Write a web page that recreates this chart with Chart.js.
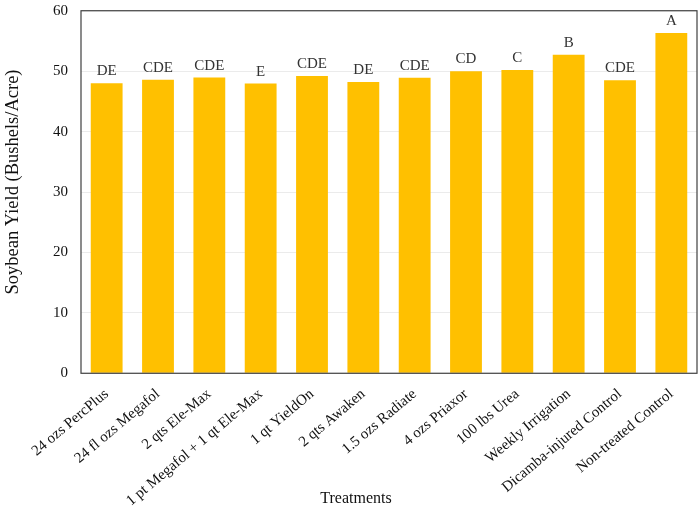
<!DOCTYPE html>
<html lang="en">
<head>
  <meta charset="UTF-8">
  <title>Soybean Yield</title>
  <script src="https://cdn.jsdelivr.net/npm/chart.js"></script>
  <style>
    html, body { margin: 0; padding: 0; background: white; overflow: hidden; }
    #wrap { width: 700px; height: 520px; margin-top: -3px; }
  </style>
</head>
<body>
  <div id="wrap"><canvas id="grafico"></canvas></div>

  <script>
    const treatments = [
      "24 ozs PercPlus", "24 fl ozs Megafol", "2 qts Ele-Max", "1 pt Megafol + 1 qt Ele-Max",
      "1 qt YieldOn", "2 qts Awaken", "1.5 ozs Radiate", "4 ozs Priaxor",
      "100 lbs Urea", "Weekly Irrigation", "Dicamba-injured Control", "Non-treated Control"
    ];
    const yieldValues = [48.0, 48.6, 48.95, 47.95, 49.2, 48.2, 48.9, 50.0, 50.2, 52.7, 48.5, 56.3];
    const letters = ["DE", "CDE", "CDE", "E", "CDE", "DE", "CDE", "CD", "C", "B", "CDE", "A"];
    const yTicks = [0, 10, 20, 30, 40, 50, 60];

    const serif = "'Liberation Serif', 'Times New Roman', serif";

    // letras acima das barras, moldura e títulos dos eixos
    const extras = {
      id: "extras",
      afterDatasetsDraw(chart) {
        const ctx = chart.ctx;
        const meta = chart.getDatasetMeta(0);
        ctx.save();
        ctx.font = "15px " + serif;
        ctx.fillStyle = "#333";
        ctx.textAlign = "center";
        ctx.textBaseline = "alphabetic";
        meta.data.forEach((bar, i) => {
          ctx.fillText(letters[i], bar.x, bar.y - 8);
        });
        const a = chart.chartArea;
        ctx.strokeStyle = "#404040";
        ctx.lineWidth = 1.2;
        ctx.strokeRect(a.left, a.top, a.right - a.left, a.bottom - a.top);

        ctx.fillStyle = "#111";
        ctx.font = "16px " + serif;
        ctx.fillText("Treatments", 356, 506);

        ctx.font = "18.5px " + serif;
        ctx.translate(18, 185);
        ctx.rotate(-Math.PI / 2);
        ctx.fillText("Soybean Yield (Bushels/Acre)", 0, 0);
        ctx.restore();
      }
    };

    new Chart(document.getElementById("grafico"), {
      type: "bar",
      data: {
        labels: treatments,
        datasets: [{
          data: yieldValues,
          backgroundColor: "#FFC000",
          barPercentage: 0.62,
          categoryPercentage: 1
        }]
      },
      options: {
        responsive: true,
        maintainAspectRatio: false,
        animation: false,
        layout: { padding: { top: 0, right: 3, left: 40, bottom: 3 } },
        plugins: { legend: { display: false }, tooltip: { enabled: false } },
        scales: {
          x: {
            grid: { display: false },
            border: { display: false },
            ticks: {
              font: { family: serif, size: 15 },
              color: "#111",
              minRotation: 40,
              maxRotation: 40,
              autoSkip: false,
              padding: 4
            }
          },
          y: {
            min: 0,
            max: 60,
            afterBuildTicks(scale) { scale.ticks = yTicks.map(v => ({ value: v })); },
            grid: { color: "#ebebeb", drawTicks: false },
            border: { display: false },
            ticks: {
              font: { family: serif, size: 15, lineHeight: 0.1 },
              color: "#111",
              padding: 13
            }
          }
        }
      },
      plugins: [extras]
    });
  </script>
</body>
</html>
